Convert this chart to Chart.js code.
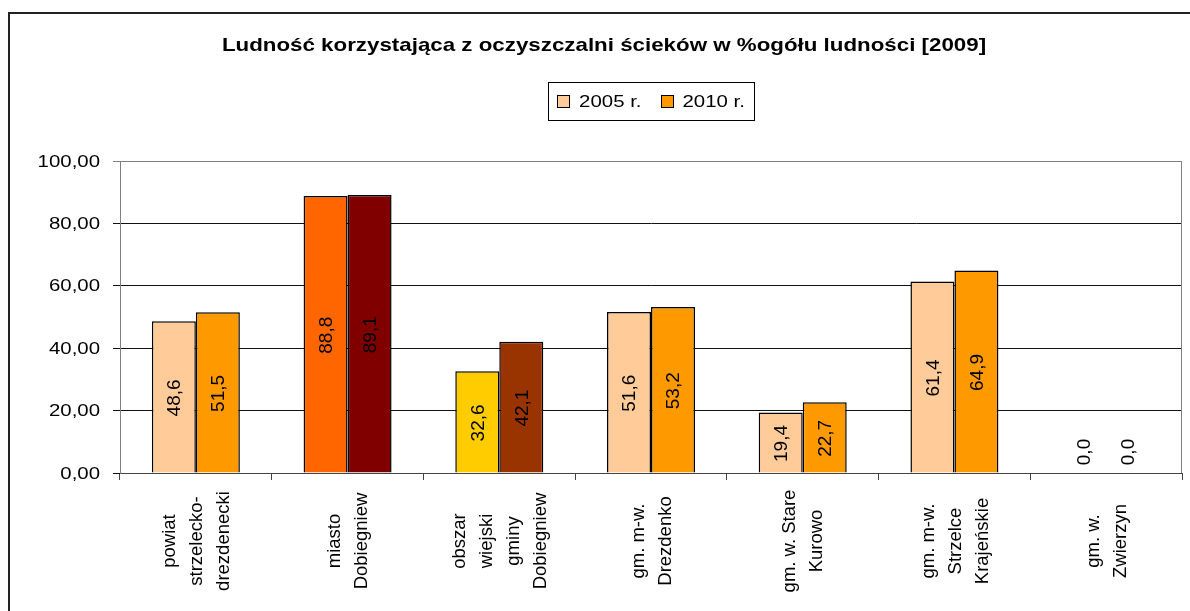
<!DOCTYPE html>
<html>
<head>
<meta charset="utf-8">
<script src="https://cdn.jsdelivr.net/npm/chart.js@4.4.1/dist/chart.umd.min.js"></script>
<style>
	html, body { margin: 0; padding: 0; background: #fff; }
	#wrap { position: relative; width: 1190px; height: 611px; }
</style>
</head>
<body>
<div id="wrap"><canvas id="chart"></canvas></div>
<script>
'use strict';

var FONT = "'Liberation Sans', Arial, sans-serif";
var STRETCH = 1.2; // el original tiene el texto horizontal algo ensanchado

var TITLE = 'Ludność korzystająca z oczyszczalni ścieków w %ogółu ludności [2009]';

var CATEGORIES = [
	['powiat', 'strzelecko-', 'drezdenecki'],
	['miasto', 'Dobiegniew'],
	['obszar', 'wiejski', 'gminy', 'Dobiegniew'],
	['gm. m-w.', 'Drezdenko'],
	['gm. w. Stare', 'Kurowo'],
	['gm. m-w.', 'Strzelce', 'Krajeńskie'],
	['gm. w.', 'Zwierzyn']
];

var SERIES_NAMES = ['2005 r.', '2010 r.'];
var VALUES_2005  = [48.6, 88.8, 32.6, 51.6, 19.4, 61.4, 0.0];
var VALUES_2010  = [51.5, 89.1, 42.1, 53.2, 22.7, 64.9, 0.0];

// Excel pinta algunas barras con su propio color
var COLORS_2005  = ['#FFCC99', '#FF6600', '#FFCC00', '#FFCC99', '#FFCC99', '#FFCC99', '#FFCC99'];
var COLORS_2010  = ['#FF9900', '#800000', '#993300', '#FF9900', '#FF9900', '#FF9900', '#FF9900'];
var LEGEND_COLORS = ['#FFCC99', '#FF9900'];

var Y_MIN = 0, Y_MAX = 100, Y_STEP = 20;

function comma(v, digits) {
	return v.toFixed(digits).replace('.', ',');
}

// texto horizontal ensanchado
function wideText(ctx, text, x, y, align, stretch) {
	stretch = stretch || STRETCH;
	var w = ctx.measureText(text).width * stretch;
	var left = align === 'center' ? x - w / 2 : (align === 'right' ? x - w : x);
	ctx.save();
	ctx.translate(left, y);
	ctx.scale(stretch, 1);
	ctx.textAlign = 'left';
	ctx.fillText(text, 0, 0);
	ctx.restore();
	return w;
}

// texto girado 90 grados (de abajo arriba)
function upText(ctx, text, x, y) {
	ctx.save();
	ctx.translate(x, y);
	ctx.rotate(-Math.PI / 2);
	ctx.textAlign = 'center';
	ctx.textBaseline = 'middle';
	ctx.fillText(text, 0, 0);
	ctx.restore();
}

// Marco exterior y borde del area de trazado
var framePlugin = {
	id: 'frame',
	beforeDraw: function(chart) {
		var ctx = chart.ctx;
		ctx.save();
		ctx.fillStyle = '#fff';
		ctx.fillRect(0, 0, chart.width, chart.height);
		ctx.strokeStyle = '#222';
		ctx.lineWidth = 2;
		ctx.beginPath();
		ctx.moveTo(9, chart.height);
		ctx.lineTo(9, 13);
		ctx.lineTo(chart.width, 13);
		ctx.stroke();
		ctx.restore();
	},
	beforeDatasetsDraw: function(chart) {
		var a = chart.chartArea, ctx = chart.ctx;
		ctx.save();
		ctx.strokeStyle = '#808080';
		ctx.lineWidth = 1;
		ctx.beginPath();
		ctx.moveTo(a.left, a.top + 0.5);
		ctx.lineTo(a.right - 0.5, a.top + 0.5);
		ctx.lineTo(a.right - 0.5, a.bottom);
		ctx.stroke();
		ctx.restore();
	}
};

// Titulo y leyenda con recuadro, como en Excel
var headerPlugin = {
	id: 'header',
	afterDraw: function(chart) {
		var ctx = chart.ctx;
		ctx.save();
		ctx.fillStyle = '#000';
		ctx.textBaseline = 'middle';
		ctx.font = 'bold 19px ' + FONT;
		wideText(ctx, TITLE, 604, 46, 'center', 1.175);

		var cy = 101, box = 12, gap = 10, itemGap = 19, padX = 9;
		ctx.font = '17px ' + FONT;
		var widths = SERIES_NAMES.map(function(n) { return ctx.measureText(n).width * STRETCH; });
		var total = 0;
		widths.forEach(function(w, i) { total += box + gap + w + (i ? itemGap : 0); });
		var left = 651 - total / 2;
		ctx.strokeStyle = '#000';
		ctx.lineWidth = 1;
		ctx.strokeRect(Math.round(left - padX) + 0.5, 82.5, Math.round(total + padX * 2), 38);
		var x = left;
		SERIES_NAMES.forEach(function(name, i) {
			var bx = Math.round(x) + 0.5;
			ctx.fillStyle = LEGEND_COLORS[i];
			ctx.fillRect(bx, cy - 6 + 0.5, box, box);
			ctx.strokeRect(bx, cy - 6 + 0.5, box, box);
			ctx.fillStyle = '#000';
			wideText(ctx, name, x + box + gap, cy + 1, 'left');
			x += box + gap + widths[i] + itemGap;
		});
		ctx.restore();
	}
};

// Etiquetas: valores dentro de las barras, eje Y y eje X
var labelPlugin = {
	id: 'labels',
	afterDatasetsDraw: function(chart) {
		var ctx = chart.ctx;
		ctx.save();
		ctx.font = '19px ' + FONT;
		ctx.fillStyle = '#000';
		chart.data.datasets.forEach(function(ds, di) {
			chart.getDatasetMeta(di).data.forEach(function(bar, i) {
				var v = ds.data[i];
				var y = v > 0 ? (bar.y + bar.base) / 2 : bar.base - 22;
				upText(ctx, comma(v, 1), bar.x + 1, y + 1);
			});
		});
		ctx.restore();
	},
	afterDraw: function(chart) {
		var ctx = chart.ctx, xs = chart.scales.x, ys = chart.scales.y;
		ctx.save();
		ctx.fillStyle = '#000';
		ctx.textBaseline = 'middle';
		ctx.font = '17px ' + FONT;
		ys.ticks.forEach(function(t) {
			wideText(ctx, comma(t.value, 2), ys.right - 20, ys.getPixelForValue(t.value) + 1, 'right');
		});

		var lineStep = 27, centerY = 541;
		ctx.font = '18.5px ' + FONT;
		CATEGORIES.forEach(function(lines, i) {
			var x = xs.getPixelForValue(i);
			lines.forEach(function(line, j) {
				upText(ctx, line, x + (j - (lines.length - 1) / 2) * lineStep + 1, centerY);
			});
		});
		ctx.restore();
	}
};

var ctx = document.getElementById('chart');

var myChart = new Chart(ctx, {
	type: 'bar',
	data: {
		labels: CATEGORIES.map(function(c) { return c.join(' '); }),
		datasets: [{
			label: SERIES_NAMES[0],
			data: VALUES_2005,
			backgroundColor: COLORS_2005,
			borderColor: '#000',
			borderWidth: 1.5
		}, {
			label: SERIES_NAMES[1],
			data: VALUES_2010,
			backgroundColor: COLORS_2010,
			borderColor: '#000',
			borderWidth: 1.5
		}]
	},
	options: {
		responsive: true,
		maintainAspectRatio: false,
		animation: false,
		devicePixelRatio: 1,
		layout: { padding: { left: 10, top: 161, right: 8, bottom: 0 } },
		datasets: {
			bar: { barPercentage: 1.0, categoryPercentage: 0.58 }
		},
		plugins: {
			legend: { display: false },
			tooltip: { enabled: false },
			title: { display: false }
		},
		scales: {
			x: {
				offset: true,
				grid: {
					offset: true,
					drawOnChartArea: false,
					drawTicks: true,
					tickLength: 7,
					color: '#444'
				},
				border: { color: '#444', width: 1 },
				ticks: { display: false },
				afterFit: function(scale) { scale.height = 138; }
			},
			y: {
				min: Y_MIN,
				max: Y_MAX,
				grid: {
					color: function(c) { return c.tick && c.tick.value === Y_MAX ? '#808080' : '#111'; },
					drawTicks: true,
					tickLength: 7
				},
				border: { color: '#808080', width: 1 },
				ticks: { display: false, stepSize: Y_STEP },
				afterFit: function(scale) { scale.width = 110; }
			}
		}
	},
	plugins: [framePlugin, headerPlugin, labelPlugin]
});
</script>
</body>
</html>
